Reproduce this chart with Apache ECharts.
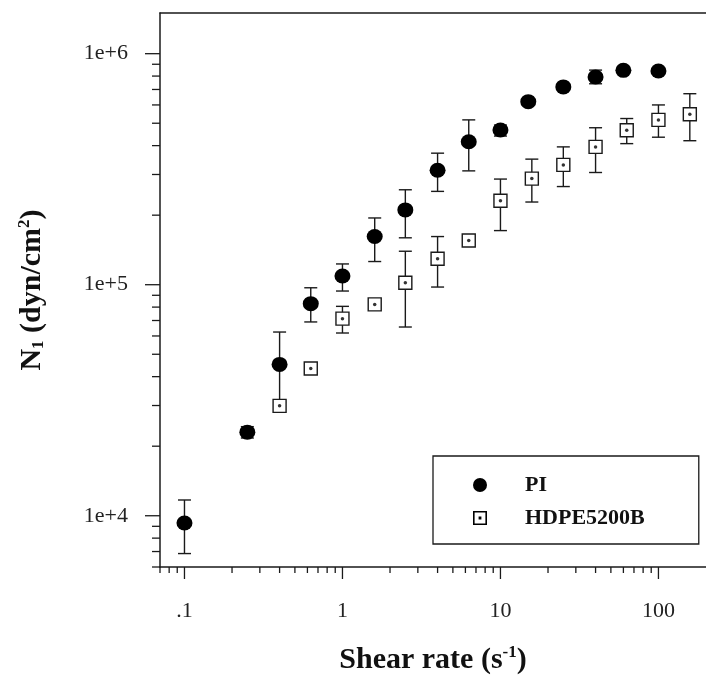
<!DOCTYPE html>
<html>
<head>
<meta charset="utf-8">
<script src="https://cdn.jsdelivr.net/npm/echarts@6/dist/echarts.min.js"></script>
<style>html,body{margin:0;padding:0;background:#fff;}#chart{width:706px;height:678px;}</style>
</head>
<body>
<div id="chart"></div>
<script>
// ---- data ----
const piX   = [0.1, 0.25, 0.4, 0.63, 1, 1.6, 2.5, 4, 6.3, 10, 15, 25, 40, 60, 100];
const piY   = [9300, 23000, 45200, 82800, 109000, 161600, 210800, 313000, 415600, 467600, 620000, 718000, 793000, 847000, 842000];
const piLo  = [6860, 21700, 31000, 69000, 93900, 126000, 159600, 253500, 311000, 440000, null, null, 741000, null, null];
const piHi  = [11700, 24300, 62400, 97000, 123000, 194500, 257600, 371000, 517000, 491000, null, null, 849000, null, null];

const hdX   = [0.4, 0.63, 1, 1.6, 2.5, 4, 6.3, 10, 15.8, 25, 40, 63, 100, 158];
const hdY   = [29900, 43400, 71300, 82200, 102000, 129500, 155300, 231000, 288000, 330000, 395000, 466000, 517000, 547000];
const hdLo  = [null, null, 61800, null, 65600, 97700, null, 171500, 228000, 266000, 306000, 408000, 435000, 420000];
const hdHi  = [null, null, 80600, null, 139600, 161600, null, 286600, 349600, 395000, 478000, 524000, 600000, 671000];

const seriesNames = ['PI', 'HDPE5200B'];

const xTickValues = [0.1, 1, 10, 100];
const xTickLabels = ['.1', '1', '10', '100'];
const yTickValues = [1e4, 1e5, 1e6];
const yTickLabels = ['1e+4', '1e+5', '1e+6'];
const minorMultipliers = [2, 3, 4, 5, 6, 7, 8, 9];
const xMinorDecades = [0.01, 0.1, 1, 10, 100];
const yMinorDecades = [1000, 1e4, 1e5, 1e6];

const xMin = 0.07, xMax = 200, yMin = 6000, yMax = 1.5e6;

// ---- helpers ----
const INK = '#1a1a1a';
const FONT = '"Liberation Serif", "Times New Roman", serif';

function labelFor(v, vals, labels) {
  for (let i = 0; i < vals.length; i++) {
    if (Math.abs(Math.log10(v) - Math.log10(vals[i])) < 1e-6) return labels[i];
  }
  return '';
}
function isMajor(v) { return Math.abs(Math.log10(v) - Math.round(Math.log10(v))) < 1e-6; }

function minorList(decades, lo, hi) {
  const out = [];
  decades.forEach(d => {
    [1].concat(minorMultipliers).forEach(m => {
      const v = d * m;
      if (v >= lo * 0.9999 && v <= hi * 0.999) out.push(v);
    });
  });
  return out;
}
const xTicksAll = minorList(xMinorDecades, xMin, xMax);
const yTicksAll = minorList(yMinorDecades, yMin, yMax);

function errData(xs, los, his) {
  const out = [];
  xs.forEach((x, i) => { if (los[i] != null && his[i] != null) out.push([x, los[i], his[i]]); });
  return out;
}

function errorBarSeries(name, data) {
  return {
    type: 'custom', name: name + ' err', silent: true, z: 2, clip: false,
    data: data,
    renderItem: function (params, api) {
      const x = api.value(0);
      const pLo = api.coord([x, api.value(1)]);
      const pHi = api.coord([x, api.value(2)]);
      const hw = 6.5;
      const st = { stroke: INK, lineWidth: 1.4 };
      return {
        type: 'group',
        children: [
          { type: 'line', shape: { x1: pLo[0], y1: pLo[1], x2: pHi[0], y2: pHi[1] }, style: st },
          { type: 'line', shape: { x1: pLo[0] - hw, y1: pLo[1], x2: pLo[0] + hw, y2: pLo[1] }, style: st },
          { type: 'line', shape: { x1: pHi[0] - hw, y1: pHi[1], x2: pHi[0] + hw, y2: pHi[1] }, style: st }
        ]
      };
    }
  };
}

function tickSeries(axis) {
  const vals = axis === 'x' ? xTicksAll : yTicksAll;
  return {
    type: 'custom', silent: true, z: 6, clip: false,
    data: vals.map(v => axis === 'x' ? [v, yMin] : [xMin, v]),
    renderItem: function (params, api) {
      const xv = api.value(0), yv = api.value(1);
      const p = api.coord([xv, yv]);
      const v = axis === 'x' ? xv : yv;
      const major = isMajor(v);
      const st = { stroke: INK, lineWidth: 1.3 };
      if (axis === 'x') {
        const len = major ? 12 : 6;
        return { type: 'line', shape: { x1: p[0], y1: p[1], x2: p[0], y2: p[1] + len }, style: st };
      } else {
        const len = major ? 15 : 8;
        return { type: 'line', shape: { x1: p[0] - len, y1: p[1], x2: p[0], y2: p[1] }, style: st };
      }
    }
  };
}

const hdIcon = 'path://M0,0 L14,0 L14,14 L0,14 Z M1.6,1.6 L1.6,12.4 L12.4,12.4 L12.4,1.6 Z M5.6,5.6 L8.4,5.6 L8.4,8.4 L5.6,8.4 Z';

const chart = echarts.init(document.getElementById('chart'), null, { renderer: 'canvas' });
chart.setOption({
  backgroundColor: '#fff',
  animation: false,
  grid: { left: 160, top: 13, right: 0, bottom: 111, containLabel: false, outerBoundsMode: 'none' },
  legend: {
    orient: 'vertical',
    left: 433, top: 456,
    padding: [18, 54, 15, 40],
    itemWidth: 80, itemHeight: 14, itemGap: 11,
    borderColor: INK, borderWidth: 1.3,
    textStyle: { fontFamily: FONT, fontWeight: 'bold', fontSize: 22, color: '#111', lineHeight: 22 },
    data: [
      { name: seriesNames[0], icon: 'circle', itemStyle: { color: '#000', borderWidth: 0 } },
      { name: seriesNames[1], icon: hdIcon, itemStyle: { color: '#000', borderWidth: 0 } }
    ]
  },
  xAxis: [{
    type: 'log', min: xMin, max: xMax, logBase: 10,
    position: 'bottom',
    axisLine: { show: true, lineStyle: { color: INK, width: 1.5 } },
    axisTick: { show: false },
    splitLine: { show: false },
    axisLabel: {
      margin: 33, fontFamily: FONT, fontSize: 22, color: '#222',
      showMinLabel: false, showMaxLabel: false,
      formatter: v => labelFor(v, xTickValues, xTickLabels)
    },
    name: '{b|Shear rate (s}{sup|-1}{b|)}',
    nameLocation: 'middle', nameGap: 77,
    nameTextStyle: {
      rich: {
        b: { fontFamily: FONT, fontWeight: 'bold', fontSize: 30, color: '#111', lineHeight: 32 },
        sup: { fontFamily: FONT, fontWeight: 'bold', fontSize: 17, color: '#111', verticalAlign: 'top', lineHeight: 32, padding: [0, 0, 14, 0] }
      }
    }
  }, {
    type: 'log', min: xMin, max: xMax, position: 'top',
    axisLine: { show: true, lineStyle: { color: INK, width: 1.5 } },
    axisTick: { show: false }, axisLabel: { show: false }, splitLine: { show: false }
  }],
  yAxis: [{
    type: 'log', min: yMin, max: yMax, logBase: 10,
    axisLine: { show: true, lineStyle: { color: INK, width: 1.5 } },
    axisTick: { show: false },
    splitLine: { show: false },
    axisLabel: {
      margin: 32, fontFamily: FONT, fontSize: 22, color: '#222',
      showMinLabel: false, showMaxLabel: false,
      formatter: v => labelFor(v, yTickValues, yTickLabels)
    },
    name: '{b|N}{sub|1}{b| (dyn/cm}{sup|2}{b|)}',
    nameLocation: 'middle', nameGap: 112,
    nameTextStyle: {
      rich: {
        b: { fontFamily: FONT, fontWeight: 'bold', fontSize: 30, color: '#111', lineHeight: 32 },
        sub: { fontFamily: FONT, fontWeight: 'bold', fontSize: 17, color: '#111', lineHeight: 32, padding: [14, 0, 0, 0] },
        sup: { fontFamily: FONT, fontWeight: 'bold', fontSize: 17, color: '#111', lineHeight: 32, padding: [0, 0, 14, 0] }
      }
    }
  }],
  series: [
    tickSeries('x'),
    tickSeries('y'),
    errorBarSeries(seriesNames[0], errData(piX, piLo, piHi)),
    errorBarSeries(seriesNames[1], errData(hdX, hdLo, hdHi)),
    {
      type: 'scatter', name: seriesNames[0], z: 3,
      symbol: 'circle', symbolSize: [16, 15],
      itemStyle: { color: '#000', opacity: 1 },
      data: piX.map((x, i) => [x, piY[i]])
    },
    {
      type: 'scatter', name: seriesNames[1], z: 3,
      symbol: 'rect', symbolSize: 13,
      itemStyle: { color: '#fff', borderColor: INK, borderWidth: 1.4, opacity: 1 },
      data: hdX.map((x, i) => [x, hdY[i]])
    },
    {
      type: 'scatter', name: seriesNames[1] + ' centre', z: 4, silent: true,
      symbol: 'circle', symbolSize: 3.5,
      itemStyle: { color: '#000' },
      data: hdX.map((x, i) => [x, hdY[i]])
    }
  ]
});
</script>
</body>
</html>
